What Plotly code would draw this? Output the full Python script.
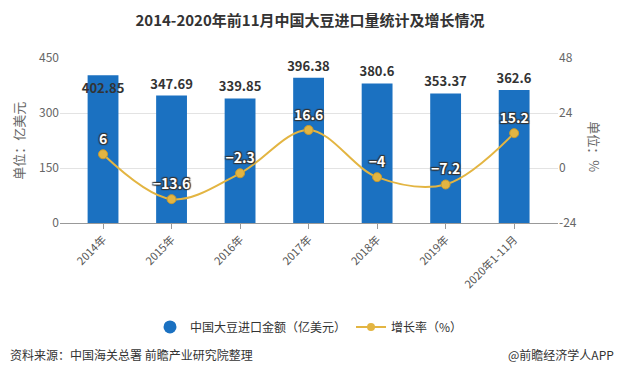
import plotly.graph_objects as go

categories = ["2014年", "2015年", "2016年", "2017年", "2018年", "2019年", "2020年1-11月"]
import_value = [402.85, 347.69, 339.85, 396.38, 380.6, 353.37, 362.6]
growth_rate = [6, -13.6, -2.3, 16.6, -4, -7.2, 15.2]
left_ticks = [0, 150, 300, 450]
right_ticks = [-24, 0, 24, 48]

BLUE = "#1B71C1"
GOLD = "#E3B542"
FONT = "Noto Sans CJK SC"

fig = go.Figure()

x_idx = list(range(len(categories)))

bar_pos = ["inside" if v > 400 else "outside" for v in import_value]
bar_font = dict(family=FONT, size=13, color="#333", weight="bold")
fig.add_trace(go.Bar(
    x=x_idx, y=import_value, width=0.45,
    marker=dict(color=BLUE, line=dict(width=0)),
    text=[str(v) for v in import_value], textposition=bar_pos,
    insidetextanchor="end", textangle=0, constraintext="none",
    textfont=bar_font, insidetextfont=bar_font, outsidetextfont=bar_font,
    cliponaxis=False, showlegend=False, name="中国大豆进口金额（亿美元）",
))

fig.add_trace(go.Scatter(
    x=x_idx, y=growth_rate, yaxis="y2", mode="lines+markers+text",
    line=dict(color=GOLD, width=2, shape="spline", smoothing=1.0),
    marker=dict(color=GOLD, size=9, line=dict(color="#C99A2E", width=1)),
    text=[("−" + str(abs(v))) if v < 0 else str(v) for v in growth_rate],
    textposition="top center",
    textfont=dict(family=FONT, size=14, color="white", weight="bold",
                  shadow="1px 1px 1px #333, -1px -1px 1px #333, 1px -1px 1px #333, -1px 1px 1px #333"),
    cliponaxis=False, showlegend=False, name="增长率（%）",
))

# legend proxies
fig.add_trace(go.Scatter(
    x=[None], y=[None], mode="markers", name="中国大豆进口金额（亿美元）",
    marker=dict(color=BLUE, size=13, symbol="circle"),
))
fig.add_trace(go.Scatter(
    x=[None], y=[None], mode="lines+markers", name="增长率（%）", yaxis="y2",
    line=dict(color=GOLD, width=2), marker=dict(color=GOLD, size=8),
))

fig.update_layout(
    width=620, height=370,
    margin=dict(l=60, r=62, t=58, b=147, autoexpand=False),
    paper_bgcolor="white", plot_bgcolor="white",
    font=dict(family=FONT, color="#333"),
    title=dict(text="<b>2014-2020年前11月中国大豆进口量统计及增长情况</b>",
               x=0.5, xanchor="center", y=0.945, yanchor="middle",
               font=dict(size=15, color="#333")),
    xaxis=dict(
        tickmode="array", tickvals=x_idx, ticktext=categories,
        range=[-0.628, 6.64], tickangle=-45, automargin=False,
        tickfont=dict(size=11, color="#555"),
        ticks="outside", ticklen=5, tickcolor="#999",
        showline=True, linecolor="#999", linewidth=1, showgrid=False,
    ),
    yaxis=dict(
        range=[0, 450], tickvals=left_ticks, ticktext=[str(t) for t in left_ticks],
        tickfont=dict(size=12, color="#666"), automargin=False,
        showgrid=True, gridcolor="#E3E3E3", zeroline=False, ticks="",
        showline=False,
    ),
    yaxis2=dict(
        range=[-24, 48], tickvals=right_ticks, ticktext=[str(t) for t in right_ticks],
        overlaying="y", side="right", showgrid=False, zeroline=False, automargin=False,
        tickfont=dict(size=12, color="#666"),
    ),
    legend=dict(orientation="h", x=0.5, xanchor="center", y=-0.63, yanchor="middle",
                font=dict(size=12, color="#333"), itemwidth=30, bgcolor="rgba(0,0,0,0)"),
    bargap=0.5,
)

fig.add_annotation(text="单位：亿美元", xref="paper", yref="paper",
                   x=-0.084, xanchor="center", y=0.5, yanchor="middle",
                   textangle=-90, showarrow=False,
                   font=dict(size=13, color="#666"))
fig.add_annotation(text="单位：%", xref="paper", yref="paper",
                   x=1.074, xanchor="center", y=0.46, yanchor="middle",
                   textangle=90, showarrow=False,
                   font=dict(size=13, color="#666"))
fig.add_annotation(text="资料来源：中国海关总署 前瞻产业研究院整理", xref="paper", yref="paper",
                   x=-0.104, xanchor="left", y=-0.794, yanchor="middle", showarrow=False,
                   font=dict(size=12, color="#333"))
fig.add_annotation(text="@前瞻经济学人APP", xref="paper", yref="paper",
                   x=1.116, xanchor="right", y=-0.794, yanchor="middle", showarrow=False,
                   font=dict(size=12, color="#333"))

fig.write_html("out.html", config={"displayModeBar": False},
               post_script="document.body.style.margin='0';document.body.style.padding='0';")
